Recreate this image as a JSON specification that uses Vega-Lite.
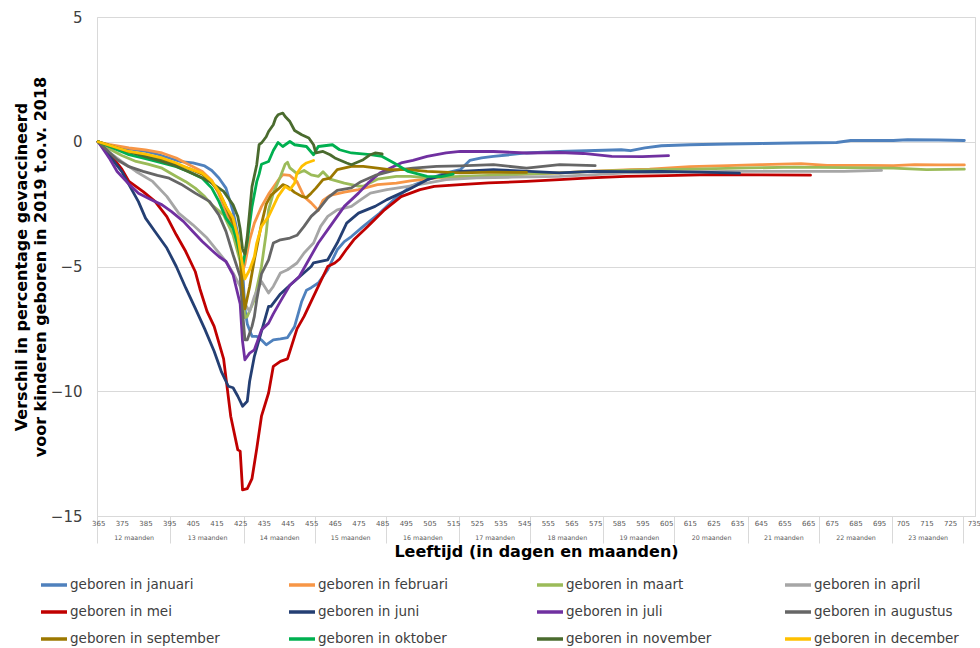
{
  "$schema": "https://vega.github.io/schema/vega-lite/v6.json",
  "autosize": {"type": "none"},
  "padding": {"left": 97, "top": 17, "right": 5, "bottom": 132},
  "width": 878,
  "height": 499,
  "background": "white",
  "config": {"font": "DejaVu Sans", "view": {"stroke": "#D9D9D9"}},
  "datasets": {
    "months": [
      {"label": "12 maanden", "start": 364.5, "end": 395.5},
      {"label": "13 maanden", "start": 395.5, "end": 426.5},
      {"label": "14 maanden", "start": 426.5, "end": 456.5},
      {"label": "15 maanden", "start": 456.5, "end": 486.5},
      {"label": "16 maanden", "start": 486.5, "end": 517.5},
      {"label": "17 maanden", "start": 517.5, "end": 547.5},
      {"label": "18 maanden", "start": 547.5, "end": 578.5},
      {"label": "19 maanden", "start": 578.5, "end": 608.5},
      {"label": "20 maanden", "start": 608.5, "end": 639.5},
      {"label": "21 maanden", "start": 639.5, "end": 669.5},
      {"label": "22 maanden", "start": 669.5, "end": 700.5},
      {"label": "23 maanden", "start": 700.5, "end": 730.5}
    ],
    "lines": [
      {"m": "geboren in januari", "d": 365, "v": 0},
      {"m": "geboren in januari", "d": 370, "v": -0.15},
      {"m": "geboren in januari", "d": 375, "v": -0.25},
      {"m": "geboren in januari", "d": 380, "v": -0.32},
      {"m": "geboren in januari", "d": 385, "v": -0.39},
      {"m": "geboren in januari", "d": 390, "v": -0.5},
      {"m": "geboren in januari", "d": 395, "v": -0.65},
      {"m": "geboren in januari", "d": 400, "v": -0.8},
      {"m": "geboren in januari", "d": 405, "v": -0.85},
      {"m": "geboren in januari", "d": 410, "v": -0.97},
      {"m": "geboren in januari", "d": 413, "v": -1.15},
      {"m": "geboren in januari", "d": 416, "v": -1.45},
      {"m": "geboren in januari", "d": 419, "v": -1.86},
      {"m": "geboren in januari", "d": 422, "v": -2.8},
      {"m": "geboren in januari", "d": 424, "v": -3.7},
      {"m": "geboren in januari", "d": 425, "v": -4.4},
      {"m": "geboren in januari", "d": 426, "v": -5.1},
      {"m": "geboren in januari", "d": 427, "v": -6.7},
      {"m": "geboren in januari", "d": 428, "v": -7.3},
      {"m": "geboren in januari", "d": 430, "v": -7.8},
      {"m": "geboren in januari", "d": 432, "v": -7.8},
      {"m": "geboren in januari", "d": 434, "v": -7.95},
      {"m": "geboren in januari", "d": 436, "v": -8.14},
      {"m": "geboren in januari", "d": 439, "v": -7.94},
      {"m": "geboren in januari", "d": 442, "v": -7.9},
      {"m": "geboren in januari", "d": 445, "v": -7.85},
      {"m": "geboren in januari", "d": 448, "v": -7.4},
      {"m": "geboren in januari", "d": 451, "v": -6.4},
      {"m": "geboren in januari", "d": 453, "v": -5.95},
      {"m": "geboren in januari", "d": 455, "v": -5.85},
      {"m": "geboren in januari", "d": 458, "v": -5.66},
      {"m": "geboren in januari", "d": 462, "v": -5.13},
      {"m": "geboren in januari", "d": 466, "v": -4.33},
      {"m": "geboren in januari", "d": 469, "v": -4.0},
      {"m": "geboren in januari", "d": 472, "v": -3.8},
      {"m": "geboren in januari", "d": 477, "v": -3.39},
      {"m": "geboren in januari", "d": 484, "v": -2.86},
      {"m": "geboren in januari", "d": 490, "v": -2.32},
      {"m": "geboren in januari", "d": 497, "v": -1.79},
      {"m": "geboren in januari", "d": 504, "v": -1.52},
      {"m": "geboren in januari", "d": 512, "v": -1.25},
      {"m": "geboren in januari", "d": 518, "v": -1.12},
      {"m": "geboren in januari", "d": 522, "v": -0.75},
      {"m": "geboren in januari", "d": 527, "v": -0.65},
      {"m": "geboren in januari", "d": 532, "v": -0.59},
      {"m": "geboren in januari", "d": 546, "v": -0.45},
      {"m": "geboren in januari", "d": 560, "v": -0.39},
      {"m": "geboren in januari", "d": 575, "v": -0.35},
      {"m": "geboren in januari", "d": 586, "v": -0.32},
      {"m": "geboren in januari", "d": 590, "v": -0.36},
      {"m": "geboren in januari", "d": 596, "v": -0.25},
      {"m": "geboren in januari", "d": 603, "v": -0.16},
      {"m": "geboren in januari", "d": 615, "v": -0.12},
      {"m": "geboren in januari", "d": 631, "v": -0.09},
      {"m": "geboren in januari", "d": 645, "v": -0.07},
      {"m": "geboren in januari", "d": 659, "v": -0.05},
      {"m": "geboren in januari", "d": 677, "v": -0.03},
      {"m": "geboren in januari", "d": 683, "v": 0.05},
      {"m": "geboren in januari", "d": 701, "v": 0.05},
      {"m": "geboren in januari", "d": 707, "v": 0.08},
      {"m": "geboren in januari", "d": 720, "v": 0.07},
      {"m": "geboren in januari", "d": 731, "v": 0.05},

      {"m": "geboren in februari", "d": 365, "v": 0},
      {"m": "geboren in februari", "d": 370, "v": -0.12},
      {"m": "geboren in februari", "d": 378, "v": -0.25},
      {"m": "geboren in februari", "d": 385, "v": -0.33},
      {"m": "geboren in februari", "d": 392, "v": -0.45},
      {"m": "geboren in februari", "d": 398, "v": -0.65},
      {"m": "geboren in februari", "d": 403, "v": -0.9},
      {"m": "geboren in februari", "d": 409, "v": -1.19},
      {"m": "geboren in februari", "d": 413, "v": -1.55},
      {"m": "geboren in februari", "d": 416, "v": -2.1},
      {"m": "geboren in februari", "d": 419, "v": -2.79},
      {"m": "geboren in februari", "d": 422, "v": -3.5},
      {"m": "geboren in februari", "d": 424, "v": -4.1},
      {"m": "geboren in februari", "d": 426, "v": -5.2},
      {"m": "geboren in februari", "d": 427, "v": -4.9},
      {"m": "geboren in februari", "d": 429, "v": -3.93},
      {"m": "geboren in februari", "d": 431, "v": -3.26},
      {"m": "geboren in februari", "d": 434, "v": -2.6},
      {"m": "geboren in februari", "d": 437, "v": -2.1},
      {"m": "geboren in februari", "d": 441, "v": -1.55},
      {"m": "geboren in februari", "d": 443, "v": -1.32},
      {"m": "geboren in februari", "d": 446, "v": -1.35},
      {"m": "geboren in februari", "d": 449, "v": -1.6},
      {"m": "geboren in februari", "d": 452, "v": -2.2},
      {"m": "geboren in februari", "d": 455, "v": -2.45},
      {"m": "geboren in februari", "d": 458, "v": -2.75},
      {"m": "geboren in februari", "d": 460, "v": -2.35},
      {"m": "geboren in februari", "d": 463, "v": -2.15},
      {"m": "geboren in februari", "d": 469, "v": -2.02},
      {"m": "geboren in februari", "d": 475, "v": -1.92},
      {"m": "geboren in februari", "d": 483, "v": -1.72},
      {"m": "geboren in februari", "d": 491, "v": -1.66},
      {"m": "geboren in februari", "d": 497, "v": -1.57},
      {"m": "geboren in februari", "d": 505, "v": -1.48},
      {"m": "geboren in februari", "d": 511, "v": -1.42},
      {"m": "geboren in februari", "d": 518, "v": -1.45},
      {"m": "geboren in februari", "d": 530, "v": -1.38},
      {"m": "geboren in februari", "d": 545, "v": -1.3},
      {"m": "geboren in februari", "d": 560, "v": -1.25},
      {"m": "geboren in februari", "d": 575, "v": -1.18},
      {"m": "geboren in februari", "d": 590, "v": -1.12},
      {"m": "geboren in februari", "d": 598, "v": -1.1},
      {"m": "geboren in februari", "d": 615, "v": -1.0},
      {"m": "geboren in februari", "d": 631, "v": -0.96},
      {"m": "geboren in februari", "d": 645, "v": -0.92},
      {"m": "geboren in februari", "d": 662, "v": -0.88},
      {"m": "geboren in februari", "d": 673, "v": -0.95},
      {"m": "geboren in februari", "d": 690, "v": -0.95},
      {"m": "geboren in februari", "d": 701, "v": -0.96},
      {"m": "geboren in februari", "d": 710, "v": -0.92},
      {"m": "geboren in februari", "d": 720, "v": -0.93},
      {"m": "geboren in februari", "d": 731, "v": -0.93},

      {"m": "geboren in maart", "d": 365, "v": 0},
      {"m": "geboren in maart", "d": 370, "v": -0.3},
      {"m": "geboren in maart", "d": 375, "v": -0.55},
      {"m": "geboren in maart", "d": 381, "v": -0.79},
      {"m": "geboren in maart", "d": 386, "v": -0.9},
      {"m": "geboren in maart", "d": 392, "v": -1.06},
      {"m": "geboren in maart", "d": 398, "v": -1.39},
      {"m": "geboren in maart", "d": 402, "v": -1.6},
      {"m": "geboren in maart", "d": 406, "v": -1.86},
      {"m": "geboren in maart", "d": 410, "v": -2.2},
      {"m": "geboren in maart", "d": 413, "v": -2.53},
      {"m": "geboren in maart", "d": 418, "v": -2.93},
      {"m": "geboren in maart", "d": 422, "v": -3.73},
      {"m": "geboren in maart", "d": 425, "v": -4.8},
      {"m": "geboren in maart", "d": 426, "v": -6.0},
      {"m": "geboren in maart", "d": 427, "v": -7.05},
      {"m": "geboren in maart", "d": 428, "v": -7.0},
      {"m": "geboren in maart", "d": 431, "v": -6.33},
      {"m": "geboren in maart", "d": 434, "v": -5.0},
      {"m": "geboren in maart", "d": 436, "v": -3.66},
      {"m": "geboren in maart", "d": 437, "v": -2.73},
      {"m": "geboren in maart", "d": 439, "v": -2.06},
      {"m": "geboren in maart", "d": 442, "v": -1.39},
      {"m": "geboren in maart", "d": 444, "v": -0.9},
      {"m": "geboren in maart", "d": 445, "v": -0.82},
      {"m": "geboren in maart", "d": 446, "v": -1.05},
      {"m": "geboren in maart", "d": 449, "v": -1.28},
      {"m": "geboren in maart", "d": 452, "v": -1.15},
      {"m": "geboren in maart", "d": 455, "v": -1.33},
      {"m": "geboren in maart", "d": 458, "v": -1.39},
      {"m": "geboren in maart", "d": 460, "v": -1.2},
      {"m": "geboren in maart", "d": 463, "v": -1.5},
      {"m": "geboren in maart", "d": 469, "v": -1.66},
      {"m": "geboren in maart", "d": 475, "v": -1.78},
      {"m": "geboren in maart", "d": 477, "v": -1.78},
      {"m": "geboren in maart", "d": 483, "v": -1.5},
      {"m": "geboren in maart", "d": 491, "v": -1.39},
      {"m": "geboren in maart", "d": 497, "v": -1.39},
      {"m": "geboren in maart", "d": 504, "v": -1.44},
      {"m": "geboren in maart", "d": 515, "v": -1.4},
      {"m": "geboren in maart", "d": 530, "v": -1.35},
      {"m": "geboren in maart", "d": 545, "v": -1.3},
      {"m": "geboren in maart", "d": 560, "v": -1.25},
      {"m": "geboren in maart", "d": 574, "v": -1.19},
      {"m": "geboren in maart", "d": 590, "v": -1.14},
      {"m": "geboren in maart", "d": 616, "v": -1.1},
      {"m": "geboren in maart", "d": 640, "v": -1.05},
      {"m": "geboren in maart", "d": 659, "v": -1.02},
      {"m": "geboren in maart", "d": 680, "v": -1.04},
      {"m": "geboren in maart", "d": 701, "v": -1.06},
      {"m": "geboren in maart", "d": 715, "v": -1.12},
      {"m": "geboren in maart", "d": 731, "v": -1.1},

      {"m": "geboren in april", "d": 365, "v": 0},
      {"m": "geboren in april", "d": 370, "v": -0.45},
      {"m": "geboren in april", "d": 375, "v": -0.8},
      {"m": "geboren in april", "d": 381, "v": -1.19},
      {"m": "geboren in april", "d": 388, "v": -1.59},
      {"m": "geboren in april", "d": 394, "v": -2.19},
      {"m": "geboren in april", "d": 399, "v": -2.86},
      {"m": "geboren in april", "d": 405, "v": -3.33},
      {"m": "geboren in april", "d": 411, "v": -3.86},
      {"m": "geboren in april", "d": 415, "v": -4.33},
      {"m": "geboren in april", "d": 419, "v": -4.8},
      {"m": "geboren in april", "d": 422, "v": -5.26},
      {"m": "geboren in april", "d": 425, "v": -5.8},
      {"m": "geboren in april", "d": 427, "v": -6.5},
      {"m": "geboren in april", "d": 429, "v": -6.8},
      {"m": "geboren in april", "d": 431, "v": -6.2},
      {"m": "geboren in april", "d": 434, "v": -5.6},
      {"m": "geboren in april", "d": 437, "v": -6.06},
      {"m": "geboren in april", "d": 439, "v": -5.8},
      {"m": "geboren in april", "d": 442, "v": -5.26},
      {"m": "geboren in april", "d": 445, "v": -5.13},
      {"m": "geboren in april", "d": 449, "v": -4.86},
      {"m": "geboren in april", "d": 452, "v": -4.46},
      {"m": "geboren in april", "d": 456, "v": -4.06},
      {"m": "geboren in april", "d": 459, "v": -3.39},
      {"m": "geboren in april", "d": 462, "v": -2.99},
      {"m": "geboren in april", "d": 466, "v": -2.73},
      {"m": "geboren in april", "d": 472, "v": -2.59},
      {"m": "geboren in april", "d": 476, "v": -2.32},
      {"m": "geboren in april", "d": 480, "v": -2.06},
      {"m": "geboren in april", "d": 487, "v": -1.92},
      {"m": "geboren in april", "d": 496, "v": -1.79},
      {"m": "geboren in april", "d": 504, "v": -1.66},
      {"m": "geboren in april", "d": 512, "v": -1.52},
      {"m": "geboren in april", "d": 525, "v": -1.45},
      {"m": "geboren in april", "d": 540, "v": -1.42},
      {"m": "geboren in april", "d": 560, "v": -1.39},
      {"m": "geboren in april", "d": 575, "v": -1.32},
      {"m": "geboren in april", "d": 588, "v": -1.25},
      {"m": "geboren in april", "d": 610, "v": -1.22},
      {"m": "geboren in april", "d": 631, "v": -1.19},
      {"m": "geboren in april", "d": 659, "v": -1.19},
      {"m": "geboren in april", "d": 680, "v": -1.19},
      {"m": "geboren in april", "d": 696, "v": -1.15},

      {"m": "geboren in mei", "d": 365, "v": 0},
      {"m": "geboren in mei", "d": 370, "v": -0.5},
      {"m": "geboren in mei", "d": 375, "v": -1.1},
      {"m": "geboren in mei", "d": 378, "v": -1.59},
      {"m": "geboren in mei", "d": 384, "v": -2.0},
      {"m": "geboren in mei", "d": 389, "v": -2.39},
      {"m": "geboren in mei", "d": 394, "v": -3.0},
      {"m": "geboren in mei", "d": 398, "v": -3.73},
      {"m": "geboren in mei", "d": 402, "v": -4.4},
      {"m": "geboren in mei", "d": 406, "v": -5.2},
      {"m": "geboren in mei", "d": 408, "v": -5.9},
      {"m": "geboren in mei", "d": 411, "v": -6.8},
      {"m": "geboren in mei", "d": 414, "v": -7.4},
      {"m": "geboren in mei", "d": 418, "v": -8.7},
      {"m": "geboren in mei", "d": 421, "v": -11.0},
      {"m": "geboren in mei", "d": 424, "v": -12.35},
      {"m": "geboren in mei", "d": 425, "v": -12.4},
      {"m": "geboren in mei", "d": 426, "v": -13.95},
      {"m": "geboren in mei", "d": 428, "v": -13.9},
      {"m": "geboren in mei", "d": 430, "v": -13.5},
      {"m": "geboren in mei", "d": 432, "v": -12.3},
      {"m": "geboren in mei", "d": 434, "v": -11.0},
      {"m": "geboren in mei", "d": 437, "v": -10.07},
      {"m": "geboren in mei", "d": 439, "v": -9.0},
      {"m": "geboren in mei", "d": 442, "v": -8.8},
      {"m": "geboren in mei", "d": 445, "v": -8.7},
      {"m": "geboren in mei", "d": 449, "v": -7.5},
      {"m": "geboren in mei", "d": 452, "v": -7.0},
      {"m": "geboren in mei", "d": 455, "v": -6.4},
      {"m": "geboren in mei", "d": 458, "v": -5.8},
      {"m": "geboren in mei", "d": 462, "v": -5.0},
      {"m": "geboren in mei", "d": 465, "v": -4.86},
      {"m": "geboren in mei", "d": 467, "v": -4.7},
      {"m": "geboren in mei", "d": 470, "v": -4.3},
      {"m": "geboren in mei", "d": 473, "v": -3.93},
      {"m": "geboren in mei", "d": 479, "v": -3.39},
      {"m": "geboren in mei", "d": 486, "v": -2.73},
      {"m": "geboren in mei", "d": 493, "v": -2.2},
      {"m": "geboren in mei", "d": 501, "v": -1.92},
      {"m": "geboren in mei", "d": 507, "v": -1.79},
      {"m": "geboren in mei", "d": 518, "v": -1.72},
      {"m": "geboren in mei", "d": 530, "v": -1.65},
      {"m": "geboren in mei", "d": 546, "v": -1.59},
      {"m": "geboren in mei", "d": 560, "v": -1.52},
      {"m": "geboren in mei", "d": 573, "v": -1.45},
      {"m": "geboren in mei", "d": 588, "v": -1.39},
      {"m": "geboren in mei", "d": 605, "v": -1.36},
      {"m": "geboren in mei", "d": 624, "v": -1.32},
      {"m": "geboren in mei", "d": 645, "v": -1.33},
      {"m": "geboren in mei", "d": 666, "v": -1.34},

      {"m": "geboren in juni", "d": 365, "v": 0},
      {"m": "geboren in juni", "d": 370, "v": -0.6},
      {"m": "geboren in juni", "d": 375, "v": -1.2},
      {"m": "geboren in juni", "d": 378, "v": -1.72},
      {"m": "geboren in juni", "d": 382, "v": -2.4},
      {"m": "geboren in juni", "d": 385, "v": -3.06},
      {"m": "geboren in juni", "d": 389, "v": -3.6},
      {"m": "geboren in juni", "d": 394, "v": -4.26},
      {"m": "geboren in juni", "d": 398, "v": -5.0},
      {"m": "geboren in juni", "d": 402, "v": -5.86},
      {"m": "geboren in juni", "d": 406, "v": -6.67},
      {"m": "geboren in juni", "d": 410, "v": -7.5},
      {"m": "geboren in juni", "d": 414, "v": -8.4},
      {"m": "geboren in juni", "d": 417, "v": -9.2},
      {"m": "geboren in juni", "d": 420, "v": -9.8},
      {"m": "geboren in juni", "d": 422, "v": -9.86},
      {"m": "geboren in juni", "d": 424, "v": -10.2},
      {"m": "geboren in juni", "d": 426, "v": -10.6},
      {"m": "geboren in juni", "d": 428, "v": -10.4},
      {"m": "geboren in juni", "d": 429, "v": -9.6},
      {"m": "geboren in juni", "d": 431, "v": -8.6},
      {"m": "geboren in juni", "d": 434, "v": -7.6},
      {"m": "geboren in juni", "d": 437, "v": -6.6},
      {"m": "geboren in juni", "d": 438, "v": -6.6},
      {"m": "geboren in juni", "d": 442, "v": -6.1},
      {"m": "geboren in juni", "d": 446, "v": -5.75},
      {"m": "geboren in juni", "d": 449, "v": -5.5},
      {"m": "geboren in juni", "d": 455, "v": -5.0},
      {"m": "geboren in juni", "d": 456, "v": -4.85},
      {"m": "geboren in juni", "d": 462, "v": -4.73},
      {"m": "geboren in juni", "d": 466, "v": -4.06},
      {"m": "geboren in juni", "d": 470, "v": -3.26},
      {"m": "geboren in juni", "d": 475, "v": -2.86},
      {"m": "geboren in juni", "d": 482, "v": -2.59},
      {"m": "geboren in juni", "d": 487, "v": -2.32},
      {"m": "geboren in juni", "d": 496, "v": -1.92},
      {"m": "geboren in juni", "d": 504, "v": -1.52},
      {"m": "geboren in juni", "d": 514, "v": -1.25},
      {"m": "geboren in juni", "d": 518, "v": -1.19},
      {"m": "geboren in juni", "d": 532, "v": -1.12},
      {"m": "geboren in juni", "d": 545, "v": -1.18},
      {"m": "geboren in juni", "d": 560, "v": -1.25},
      {"m": "geboren in juni", "d": 574, "v": -1.19},
      {"m": "geboren in juni", "d": 590, "v": -1.2},
      {"m": "geboren in juni", "d": 603, "v": -1.19},
      {"m": "geboren in juni", "d": 620, "v": -1.22},
      {"m": "geboren in juni", "d": 636, "v": -1.26},

      {"m": "geboren in juli", "d": 365, "v": 0},
      {"m": "geboren in juli", "d": 370, "v": -0.7},
      {"m": "geboren in juli", "d": 373, "v": -1.19},
      {"m": "geboren in juli", "d": 377, "v": -1.6},
      {"m": "geboren in juli", "d": 382, "v": -2.06},
      {"m": "geboren in juli", "d": 387, "v": -2.3},
      {"m": "geboren in juli", "d": 392, "v": -2.53},
      {"m": "geboren in juli", "d": 396, "v": -2.8},
      {"m": "geboren in juli", "d": 401, "v": -3.19},
      {"m": "geboren in juli", "d": 405, "v": -3.6},
      {"m": "geboren in juli", "d": 409, "v": -4.0},
      {"m": "geboren in juli", "d": 413, "v": -4.35},
      {"m": "geboren in juli", "d": 416, "v": -4.6},
      {"m": "geboren in juli", "d": 419, "v": -4.8},
      {"m": "geboren in juli", "d": 422, "v": -5.33},
      {"m": "geboren in juli", "d": 425, "v": -6.5},
      {"m": "geboren in juli", "d": 426, "v": -8.0},
      {"m": "geboren in juli", "d": 427, "v": -8.74},
      {"m": "geboren in juli", "d": 429, "v": -8.47},
      {"m": "geboren in juli", "d": 431, "v": -8.34},
      {"m": "geboren in juli", "d": 434, "v": -7.54},
      {"m": "geboren in juli", "d": 437, "v": -7.27},
      {"m": "geboren in juli", "d": 439, "v": -6.9},
      {"m": "geboren in juli", "d": 442, "v": -6.4},
      {"m": "geboren in juli", "d": 446, "v": -5.75},
      {"m": "geboren in juli", "d": 450, "v": -5.4},
      {"m": "geboren in juli", "d": 454, "v": -4.73},
      {"m": "geboren in juli", "d": 458, "v": -4.06},
      {"m": "geboren in juli", "d": 463, "v": -3.39},
      {"m": "geboren in juli", "d": 469, "v": -2.59},
      {"m": "geboren in juli", "d": 475, "v": -2.06},
      {"m": "geboren in juli", "d": 479, "v": -1.66},
      {"m": "geboren in juli", "d": 484, "v": -1.25},
      {"m": "geboren in juli", "d": 493, "v": -0.85},
      {"m": "geboren in juli", "d": 498, "v": -0.75},
      {"m": "geboren in juli", "d": 504, "v": -0.59},
      {"m": "geboren in juli", "d": 512, "v": -0.45},
      {"m": "geboren in juli", "d": 518, "v": -0.39},
      {"m": "geboren in juli", "d": 532, "v": -0.39},
      {"m": "geboren in juli", "d": 546, "v": -0.45},
      {"m": "geboren in juli", "d": 560, "v": -0.43},
      {"m": "geboren in juli", "d": 570, "v": -0.47},
      {"m": "geboren in juli", "d": 582, "v": -0.59},
      {"m": "geboren in juli", "d": 595, "v": -0.6},
      {"m": "geboren in juli", "d": 606, "v": -0.56},

      {"m": "geboren in augustus", "d": 365, "v": 0},
      {"m": "geboren in augustus", "d": 373, "v": -0.72},
      {"m": "geboren in augustus", "d": 378, "v": -1.0},
      {"m": "geboren in augustus", "d": 384, "v": -1.19},
      {"m": "geboren in augustus", "d": 390, "v": -1.35},
      {"m": "geboren in augustus", "d": 395, "v": -1.46},
      {"m": "geboren in augustus", "d": 400, "v": -1.7},
      {"m": "geboren in augustus", "d": 406, "v": -2.06},
      {"m": "geboren in augustus", "d": 412, "v": -2.39},
      {"m": "geboren in augustus", "d": 416, "v": -2.93},
      {"m": "geboren in augustus", "d": 419, "v": -3.59},
      {"m": "geboren in augustus", "d": 422, "v": -4.53},
      {"m": "geboren in augustus", "d": 425, "v": -5.4},
      {"m": "geboren in augustus", "d": 426, "v": -6.8},
      {"m": "geboren in augustus", "d": 427, "v": -7.94},
      {"m": "geboren in augustus", "d": 428, "v": -7.94},
      {"m": "geboren in augustus", "d": 430, "v": -7.4},
      {"m": "geboren in augustus", "d": 431, "v": -7.0},
      {"m": "geboren in augustus", "d": 432, "v": -6.33},
      {"m": "geboren in augustus", "d": 434, "v": -5.3},
      {"m": "geboren in augustus", "d": 437, "v": -4.73},
      {"m": "geboren in augustus", "d": 439, "v": -4.06},
      {"m": "geboren in augustus", "d": 442, "v": -3.93},
      {"m": "geboren in augustus", "d": 446, "v": -3.86},
      {"m": "geboren in augustus", "d": 449, "v": -3.75},
      {"m": "geboren in augustus", "d": 452, "v": -3.39},
      {"m": "geboren in augustus", "d": 455, "v": -2.99},
      {"m": "geboren in augustus", "d": 458, "v": -2.73},
      {"m": "geboren in augustus", "d": 462, "v": -2.25},
      {"m": "geboren in augustus", "d": 466, "v": -1.95},
      {"m": "geboren in augustus", "d": 472, "v": -1.85},
      {"m": "geboren in augustus", "d": 476, "v": -1.6},
      {"m": "geboren in augustus", "d": 482, "v": -1.35},
      {"m": "geboren in augustus", "d": 490, "v": -1.15},
      {"m": "geboren in augustus", "d": 498, "v": -1.06},
      {"m": "geboren in augustus", "d": 508, "v": -0.99},
      {"m": "geboren in augustus", "d": 518, "v": -0.97},
      {"m": "geboren in augustus", "d": 532, "v": -0.92},
      {"m": "geboren in augustus", "d": 546, "v": -1.06},
      {"m": "geboren in augustus", "d": 560, "v": -0.92},
      {"m": "geboren in augustus", "d": 575, "v": -0.96},

      {"m": "geboren in september", "d": 365, "v": 0},
      {"m": "geboren in september", "d": 370, "v": -0.2},
      {"m": "geboren in september", "d": 375, "v": -0.35},
      {"m": "geboren in september", "d": 380, "v": -0.45},
      {"m": "geboren in september", "d": 385, "v": -0.55},
      {"m": "geboren in september", "d": 392, "v": -0.7},
      {"m": "geboren in september", "d": 398, "v": -0.9},
      {"m": "geboren in september", "d": 404, "v": -1.1},
      {"m": "geboren in september", "d": 409, "v": -1.3},
      {"m": "geboren in september", "d": 413, "v": -1.65},
      {"m": "geboren in september", "d": 416, "v": -2.0},
      {"m": "geboren in september", "d": 419, "v": -2.6},
      {"m": "geboren in september", "d": 422, "v": -3.3},
      {"m": "geboren in september", "d": 425, "v": -4.6},
      {"m": "geboren in september", "d": 426, "v": -5.8},
      {"m": "geboren in september", "d": 427, "v": -6.7},
      {"m": "geboren in september", "d": 429, "v": -5.8},
      {"m": "geboren in september", "d": 431, "v": -4.73},
      {"m": "geboren in september", "d": 434, "v": -3.3},
      {"m": "geboren in september", "d": 436, "v": -2.5},
      {"m": "geboren in september", "d": 438, "v": -2.15},
      {"m": "geboren in september", "d": 441, "v": -1.9},
      {"m": "geboren in september", "d": 443, "v": -1.72},
      {"m": "geboren in september", "d": 445, "v": -1.8},
      {"m": "geboren in september", "d": 448, "v": -2.03},
      {"m": "geboren in september", "d": 451, "v": -2.19},
      {"m": "geboren in september", "d": 453, "v": -2.24},
      {"m": "geboren in september", "d": 455, "v": -2.06},
      {"m": "geboren in september", "d": 457, "v": -1.86},
      {"m": "geboren in september", "d": 460, "v": -1.52},
      {"m": "geboren in september", "d": 463, "v": -1.46},
      {"m": "geboren in september", "d": 466, "v": -1.12},
      {"m": "geboren in september", "d": 472, "v": -0.99},
      {"m": "geboren in september", "d": 477, "v": -0.99},
      {"m": "geboren in september", "d": 483, "v": -1.06},
      {"m": "geboren in september", "d": 488, "v": -1.12},
      {"m": "geboren in september", "d": 496, "v": -1.12},
      {"m": "geboren in september", "d": 504, "v": -1.19},
      {"m": "geboren in september", "d": 518, "v": -1.25},
      {"m": "geboren in september", "d": 532, "v": -1.22},
      {"m": "geboren in september", "d": 546, "v": -1.23},

      {"m": "geboren in oktober", "d": 365, "v": 0},
      {"m": "geboren in oktober", "d": 370, "v": -0.2},
      {"m": "geboren in oktober", "d": 378, "v": -0.52},
      {"m": "geboren in oktober", "d": 385, "v": -0.68},
      {"m": "geboren in oktober", "d": 392, "v": -0.85},
      {"m": "geboren in oktober", "d": 398, "v": -1.0},
      {"m": "geboren in oktober", "d": 403, "v": -1.19},
      {"m": "geboren in oktober", "d": 409, "v": -1.46},
      {"m": "geboren in oktober", "d": 413, "v": -1.86},
      {"m": "geboren in oktober", "d": 416, "v": -2.39},
      {"m": "geboren in oktober", "d": 419, "v": -3.06},
      {"m": "geboren in oktober", "d": 422, "v": -3.46},
      {"m": "geboren in oktober", "d": 424, "v": -4.1},
      {"m": "geboren in oktober", "d": 425, "v": -4.5},
      {"m": "geboren in oktober", "d": 426, "v": -5.0},
      {"m": "geboren in oktober", "d": 428, "v": -4.0},
      {"m": "geboren in oktober", "d": 430, "v": -2.6},
      {"m": "geboren in oktober", "d": 432, "v": -1.6},
      {"m": "geboren in oktober", "d": 433, "v": -1.3},
      {"m": "geboren in oktober", "d": 434, "v": -0.9},
      {"m": "geboren in oktober", "d": 437, "v": -0.79},
      {"m": "geboren in oktober", "d": 439, "v": -0.35},
      {"m": "geboren in oktober", "d": 441, "v": -0.03},
      {"m": "geboren in oktober", "d": 443, "v": -0.19},
      {"m": "geboren in oktober", "d": 446, "v": 0.01},
      {"m": "geboren in oktober", "d": 448, "v": -0.12},
      {"m": "geboren in oktober", "d": 453, "v": -0.19},
      {"m": "geboren in oktober", "d": 456, "v": -0.52},
      {"m": "geboren in oktober", "d": 458, "v": -0.19},
      {"m": "geboren in oktober", "d": 464, "v": -0.12},
      {"m": "geboren in oktober", "d": 467, "v": -0.32},
      {"m": "geboren in oktober", "d": 472, "v": -0.45},
      {"m": "geboren in oktober", "d": 480, "v": -0.52},
      {"m": "geboren in oktober", "d": 485, "v": -0.59},
      {"m": "geboren in oktober", "d": 490, "v": -0.85},
      {"m": "geboren in oktober", "d": 496, "v": -1.19},
      {"m": "geboren in oktober", "d": 504, "v": -1.39},
      {"m": "geboren in oktober", "d": 510, "v": -1.4},
      {"m": "geboren in oktober", "d": 515, "v": -1.3},

      {"m": "geboren in november", "d": 365, "v": 0},
      {"m": "geboren in november", "d": 370, "v": -0.15},
      {"m": "geboren in november", "d": 378, "v": -0.4},
      {"m": "geboren in november", "d": 385, "v": -0.6},
      {"m": "geboren in november", "d": 392, "v": -0.79},
      {"m": "geboren in november", "d": 398, "v": -0.98},
      {"m": "geboren in november", "d": 403, "v": -1.19},
      {"m": "geboren in november", "d": 408, "v": -1.4},
      {"m": "geboren in november", "d": 412, "v": -1.59},
      {"m": "geboren in november", "d": 418, "v": -1.99},
      {"m": "geboren in november", "d": 422, "v": -2.53},
      {"m": "geboren in november", "d": 424, "v": -3.0},
      {"m": "geboren in november", "d": 425, "v": -3.5},
      {"m": "geboren in november", "d": 426, "v": -4.3},
      {"m": "geboren in november", "d": 427, "v": -4.5},
      {"m": "geboren in november", "d": 428, "v": -3.8},
      {"m": "geboren in november", "d": 429, "v": -2.8},
      {"m": "geboren in november", "d": 430, "v": -1.8},
      {"m": "geboren in november", "d": 432, "v": -0.92},
      {"m": "geboren in november", "d": 433, "v": -0.12},
      {"m": "geboren in november", "d": 434, "v": -0.05},
      {"m": "geboren in november", "d": 436, "v": 0.2},
      {"m": "geboren in november", "d": 437, "v": 0.41},
      {"m": "geboren in november", "d": 439, "v": 0.68},
      {"m": "geboren in november", "d": 440, "v": 0.95},
      {"m": "geboren in november", "d": 441, "v": 1.08},
      {"m": "geboren in november", "d": 443, "v": 1.15},
      {"m": "geboren in november", "d": 444, "v": 1.01},
      {"m": "geboren in november", "d": 446, "v": 0.81},
      {"m": "geboren in november", "d": 448, "v": 0.45},
      {"m": "geboren in november", "d": 451, "v": 0.28},
      {"m": "geboren in november", "d": 454, "v": 0.15},
      {"m": "geboren in november", "d": 456, "v": -0.12},
      {"m": "geboren in november", "d": 457, "v": -0.45},
      {"m": "geboren in november", "d": 460, "v": -0.39},
      {"m": "geboren in november", "d": 463, "v": -0.52},
      {"m": "geboren in november", "d": 465, "v": -0.65},
      {"m": "geboren in november", "d": 470, "v": -0.85},
      {"m": "geboren in november", "d": 472, "v": -0.92},
      {"m": "geboren in november", "d": 477, "v": -0.72},
      {"m": "geboren in november", "d": 480, "v": -0.52},
      {"m": "geboren in november", "d": 482, "v": -0.45},
      {"m": "geboren in november", "d": 485, "v": -0.49},

      {"m": "geboren in december", "d": 365, "v": 0},
      {"m": "geboren in december", "d": 370, "v": -0.15},
      {"m": "geboren in december", "d": 378, "v": -0.39},
      {"m": "geboren in december", "d": 385, "v": -0.5},
      {"m": "geboren in december", "d": 392, "v": -0.65},
      {"m": "geboren in december", "d": 398, "v": -0.85},
      {"m": "geboren in december", "d": 403, "v": -1.06},
      {"m": "geboren in december", "d": 409, "v": -1.26},
      {"m": "geboren in december", "d": 413, "v": -1.59},
      {"m": "geboren in december", "d": 416, "v": -1.99},
      {"m": "geboren in december", "d": 419, "v": -2.59},
      {"m": "geboren in december", "d": 422, "v": -3.06},
      {"m": "geboren in december", "d": 424, "v": -3.8},
      {"m": "geboren in december", "d": 425, "v": -4.4},
      {"m": "geboren in december", "d": 427, "v": -5.5},
      {"m": "geboren in december", "d": 429, "v": -5.13},
      {"m": "geboren in december", "d": 431, "v": -4.6},
      {"m": "geboren in december", "d": 432, "v": -4.06},
      {"m": "geboren in december", "d": 434, "v": -3.39},
      {"m": "geboren in december", "d": 437, "v": -2.99},
      {"m": "geboren in december", "d": 439, "v": -2.59},
      {"m": "geboren in december", "d": 441, "v": -2.19},
      {"m": "geboren in december", "d": 444, "v": -1.79},
      {"m": "geboren in december", "d": 446, "v": -1.92},
      {"m": "geboren in december", "d": 448, "v": -1.66},
      {"m": "geboren in december", "d": 449, "v": -1.26},
      {"m": "geboren in december", "d": 451, "v": -0.99},
      {"m": "geboren in december", "d": 453, "v": -0.85},
      {"m": "geboren in december", "d": 456, "v": -0.75}
    ]
  },
  "layer": [
    {
      "data": {"name": "months"},
      "mark": {"type": "rule", "opacity": 0},
      "encoding": {
        "x": {
          "field": "start",
          "type": "quantitative",
          "scale": {"domain": [364.5, 735.5], "nice": false, "zero": false},
          "axis": {
            "orient": "bottom",
            "values": [364.5, 395.5, 426.5, 456.5, 486.5, 517.5, 547.5, 578.5, 608.5, 639.5, 669.5, 700.5, 730.5],
            "labels": false,
            "domain": false,
            "grid": false,
            "ticks": true,
            "tickSize": 27,
            "tickColor": "#D9D9D9",
            "tickWidth": 1,
            "title": null
          }
        }
      }
    },
    {
      "data": {"name": "months"},
      "mark": {"type": "rule", "opacity": 0},
      "encoding": {
        "x": {
          "field": "end",
          "type": "quantitative",
          "axis": {
            "orient": "bottom",
            "values": [380, 411, 441.5, 471.5, 502, 532.5, 563, 593.5, 624, 654.5, 685, 715.5],
            "labelExpr": "floor((datum.value - 365) / 30.4375 + 12) + ' maanden'",
            "labelFontSize": 6.3,
            "labelColor": "#595959",
            "labelPadding": 18,
            "labelOverlap": false,
            "labelFlush": false,
            "domain": false,
            "grid": false,
            "ticks": false,
            "title": null
          }
        }
      }
    },
    {
      "data": {"name": "lines"},
      "mark": {"type": "line", "strokeWidth": 2.8, "strokeJoin": "round", "strokeCap": "round"},
      "encoding": {
        "x": {
          "field": "d",
          "type": "quantitative",
          "axis": {
            "orient": "bottom",
            "values": [365, 375, 385, 395, 405, 415, 425, 435, 445, 455, 465, 475, 485, 495, 505, 515, 525, 535, 545, 555, 565, 575, 585, 595, 605, 615, 625, 635, 645, 655, 665, 675, 685, 695, 705, 715, 725, 735],
            "labelFontSize": 7,
            "labelColor": "#595959",
            "labelPadding": 3,
            "labelOverlap": false,
            "labelFlush": false,
            "ticks": false,
            "grid": false,
            "domain": true,
            "domainColor": "#D9D9D9",
            "title": "Leeftijd (in dagen en maanden)",
            "titleFontSize": 16,
            "titleFontWeight": "bold",
            "titleColor": "black",
            "titlePadding": 17
          }
        },
        "y": {
          "field": "v",
          "type": "quantitative",
          "scale": {"domain": [-15, 5], "nice": false, "zero": false},
          "axis": {
            "values": [-15, -10, -5, 0, 5],
            "grid": true,
            "gridColor": "#D9D9D9",
            "ticks": false,
            "domain": false,
            "labelFontSize": 15,
            "labelColor": "#404040",
            "labelPadding": 15,
            "title": ["Verschil in percentage gevaccineerd", "voor kinderen geboren in 2019 t.o.v. 2018"],
            "titleFontSize": 16,
            "titleFontWeight": "bold",
            "titleColor": "black",
            "titleLineHeight": 19,
            "titlePadding": 2
          }
        },
        "color": {
          "field": "m",
          "type": "nominal",
          "scale": {
            "domain": ["geboren in januari", "geboren in februari", "geboren in maart", "geboren in april", "geboren in mei", "geboren in juni", "geboren in juli", "geboren in augustus", "geboren in september", "geboren in oktober", "geboren in november", "geboren in december"],
            "range": ["#4F81BD", "#F79646", "#9BBB59", "#A6A6A6", "#C00000", "#243F73", "#7030A0", "#666666", "#9C7800", "#00B050", "#4A6B2E", "#FFC000"]
          },
          "legend": {
            "orient": "none",
            "legendX": -58,
            "legendY": 553,
            "direction": "horizontal",
            "columns": 4,
            "gridAlign": "all",
            "columnPadding": 62,
            "rowPadding": 5,
            "symbolType": "stroke",
            "symbolSize": 676,
            "symbolStrokeWidth": 3.5,
            "labelFontSize": 13.5,
            "labelColor": "#404040",
            "labelOffset": 1,
            "labelLimit": 0,
            "title": null
          }
        }
      }
    }
  ],
  "resolve": {"axis": {"x": "independent"}}
}
